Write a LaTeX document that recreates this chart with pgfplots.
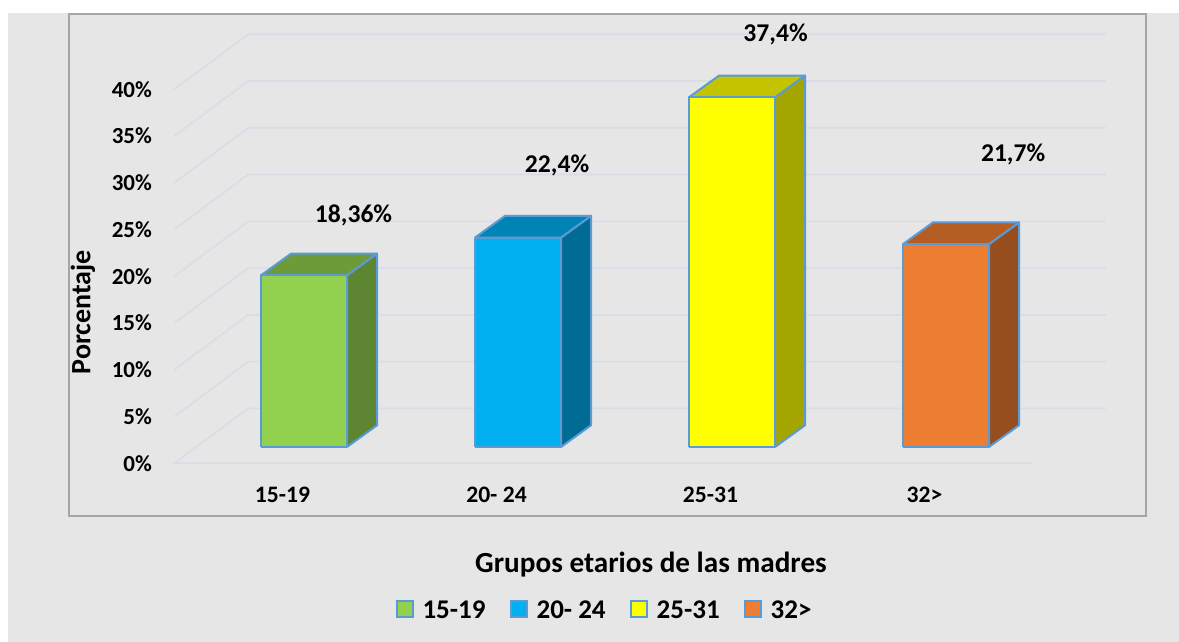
\documentclass[border=0pt]{standalone}
\usepackage{fontspec}
\setmainfont{Carlito}
\usepackage{pgfplots}
\pgfplotsset{compat=1.18}
\usepackage{pgfplotstable}

\definecolor{bgc}{HTML}{E6E6E6}
\definecolor{gridc}{HTML}{D8DDE7}
\definecolor{borderc}{HTML}{A6A6A6}
\definecolor{edgec}{HTML}{5B9BD5}
\definecolor{gF}{HTML}{92D050}\definecolor{gS}{HTML}{5E8532}\definecolor{gT}{HTML}{6E9B3A}
\definecolor{bF}{HTML}{00B0F0}\definecolor{bS}{HTML}{006C93}\definecolor{bT}{HTML}{0084B5}
\definecolor{yF}{HTML}{FFFF00}\definecolor{yS}{HTML}{A5A500}\definecolor{yT}{HTML}{C4C400}
\definecolor{oF}{HTML}{ED7D31}\definecolor{oS}{HTML}{964E1E}\definecolor{oT}{HTML}{B45E24}

\pgfplotstableread{
idx val
0 18.36
1 22.4
2 37.4
3 21.7
}\datatable

\newcommand\cubebar[4]{%
  \pgfplotstablegetelem{#1}{val}\of\datatable
  \let\barval\pgfplotsretval
  \pgfmathsetmacro\xa{#1-0.1004}%
  \pgfmathsetmacro\xb{#1+0.3014}%
  \pgfmathsetmacro\xc{#1+0.4416}%
  \pgfmathsetmacro\xd{#1+0.0398}%
  \pgfmathsetmacro\ya{1.743}%
  \pgfmathsetmacro\yb{1.743+\barval}%
  \pgfmathsetmacro\yc{4.063}%
  \pgfmathsetmacro\yd{4.063+\barval}%
  \edef\doplot{%
    \noexpand\addplot[forget plot, fill=#3, draw=edgec, line width=1pt, line join=round, mark=none] coordinates {(\xb,\ya) (\xc,\yc) (\xc,\yd) (\xb,\yb) (\xb,\ya)};
    \noexpand\addplot[forget plot, fill=#4, draw=edgec, line width=1pt, line join=round, mark=none] coordinates {(\xa,\yb) (\xb,\yb) (\xc,\yd) (\xd,\yd) (\xa,\yb)};
    \noexpand\addplot[forget plot, fill=#2, draw=edgec, line width=1pt, line join=round, mark=none] coordinates {(\xa,\ya) (\xb,\ya) (\xb,\yb) (\xa,\yb) (\xa,\ya)};
  }\doplot
}

\begin{document}
\begin{tikzpicture}
\path[use as bounding box] (0,0) rectangle (589.5pt,321pt);
\fill[white] (0,0) rectangle (589.5pt,321pt);
\fill[bgc] (4pt,0) rectangle (589.5pt,314.5pt);
\begin{axis}[
  at={(34.5pt,63pt)}, anchor=south west,
  scale only axis, width=538.5pt, height=251pt,
  xmin=-0.9977, xmax=4.0350, ymin=-5.636, ymax=48.05,
  axis line style={draw=borderc, line width=0.6pt},
  clip=false,
  xtick={0,1,2,3},
  xticklabels={15-19,20- 24,25-31,32>},
  ytick={0,5,10,15,20,25,30,35,40},
  yticklabels={0\%,5\%,10\%,15\%,20\%,25\%,30\%,35\%,40\%},
  major tick length=0pt,
  tick style={draw=none},
  yticklabel style={anchor=east, inner sep=0pt, xshift=41.65pt, font=\fontsize{11.5}{13}\selectfont\bfseries},
  xticklabel style={anchor=center, inner sep=0pt, yshift=10.75pt, font=\fontsize{11.8}{13}\selectfont\bfseries},
  ylabel={Porcentaje},
  ylabel style={at={(axis description cs:0.013,0.406)}, anchor=center, rotate=0, font=\fontsize{14}{16}\selectfont\bfseries},
  xlabel={Grupos etarios de las madres},
  xlabel style={at={(axis description cs:0.5404,-0.1135)}, anchor=base, font=\fontsize{14.6}{17}\selectfont\bfseries},
  legend image code/.code={\draw[#1, line width=1pt] (0pt,-2.75pt) rectangle (8pt,5.25pt);},
  legend columns=4,
  legend style={at={(axis description cs:0.4963,-0.1892)}, anchor=center, draw=none, fill=none,
    font=\fontsize{13.5}{16}\selectfont\bfseries, nodes={inner sep=0pt},
    /tikz/every odd column/.append style={column sep=4.5pt},
    /tikz/every even column/.append style={column sep=12pt}},
]
% gridlines (3D walls)
\addplot[forget plot, draw=gridc, line width=0.8pt, mark=none] coordinates {(3.502,0) (-0.5056,0) (-0.1598,5.88) (3.848,5.88)};
\addplot[forget plot, draw=gridc, line width=0.8pt, mark=none] coordinates {(-0.5056,5) (-0.1598,10.88) (3.848,10.88)};
\addplot[forget plot, draw=gridc, line width=0.8pt, mark=none] coordinates {(-0.5056,10) (-0.1598,15.88) (3.848,15.88)};
\addplot[forget plot, draw=gridc, line width=0.8pt, mark=none] coordinates {(-0.5056,15) (-0.1598,20.88) (3.848,20.88)};
\addplot[forget plot, draw=gridc, line width=0.8pt, mark=none] coordinates {(-0.5056,20) (-0.1598,25.88) (3.848,25.88)};
\addplot[forget plot, draw=gridc, line width=0.8pt, mark=none] coordinates {(-0.5056,25) (-0.1598,30.88) (3.848,30.88)};
\addplot[forget plot, draw=gridc, line width=0.8pt, mark=none] coordinates {(-0.5056,30) (-0.1598,35.88) (3.848,35.88)};
\addplot[forget plot, draw=gridc, line width=0.8pt, mark=none] coordinates {(-0.5056,35) (-0.1598,40.88) (3.848,40.88)};
\addplot[forget plot, draw=gridc, line width=0.8pt, mark=none] coordinates {(-0.5056,40) (-0.1598,45.88) (3.848,45.88)};
% bars
\cubebar{0}{gF}{gS}{gT}
\cubebar{1}{bF}{bS}{bT}
\cubebar{2}{yF}{yS}{yT}
\cubebar{3}{oF}{oS}{oT}
% legend
\addlegendimage{fill=gF, draw=edgec}\addlegendentry{15-19}
\addlegendimage{fill=bF, draw=edgec}\addlegendentry{20- 24}
\addlegendimage{fill=yF, draw=edgec}\addlegendentry{25-31}
\addlegendimage{fill=oF, draw=edgec}\addlegendentry{32>}
% value labels
\node[anchor=base, inner sep=0pt, font=\fontsize{12.8}{15}\selectfont\bfseries] at (axis cs:0.332,25.75) {18,36\%};
\node[anchor=base, inner sep=0pt, font=\fontsize{12.8}{15}\selectfont\bfseries] at (axis cs:1.283,31.05) {22,4\%};
\node[anchor=base, inner sep=0pt, font=\fontsize{12.8}{15}\selectfont\bfseries] at (axis cs:2.304,45.11) {37,4\%};
\node[anchor=base, inner sep=0pt, font=\fontsize{12.8}{15}\selectfont\bfseries] at (axis cs:3.414,32.26) {21,7\%};
\end{axis}
\end{tikzpicture}
\end{document}
